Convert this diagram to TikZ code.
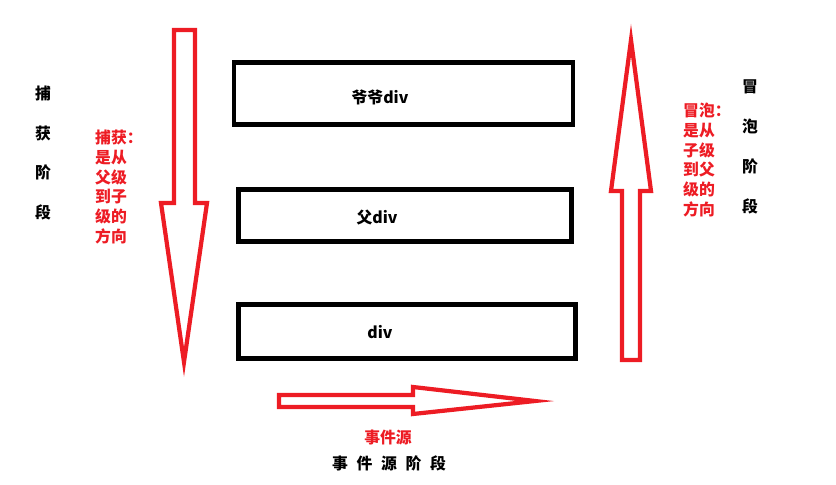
\documentclass[tikz,border=0pt]{standalone}
\usepackage{fontspec}
\setmainfont{Noto Sans CJK SC}
\usepackage{tikz}
\definecolor{paintred}{RGB}{237,28,36}

\begin{document}
\begin{tikzpicture}[x=0.03cm, y=-0.03cm,
        divbox/.style={shape=rectangle, draw=black, line width=4.2pt},
        redarrow/.style={draw=paintred, line width=3.6pt, line join=miter, miter limit=25},
        redtext/.style={text=paintred, font=\fontsize{13.5}{17}\selectfont\bfseries, align=left, inner sep=0pt},
        phase/.style={font=\fontsize{13.5}{34}\selectfont\bfseries, align=center, inner sep=0pt},
        divlabel/.style={font=\fontsize{13.5}{15}\selectfont\bfseries, inner sep=0pt}]
                \useasboundingbox (0,0) rectangle (836,485);
                % the three nested divs
                \node[divbox, minimum width=10.17cm, minimum height=1.86cm] (grandpa) at (403.5, 93.5) {};
                \node[divbox, minimum width=9.99cm, minimum height=1.56cm] (father) at (405, 215.5) {};
                \node[divbox, minimum width=10.11cm, minimum height=1.62cm] (child) at (407, 331.5) {};
                \node[divlabel] (grandpatext) at (380, 97) {爷爷div};
                \node[divlabel] (fathertext) at (377, 217) {父div};
                \node[divlabel] (childtext) at (380, 332) {div};
                % capture: down
                \draw[redarrow] (174,30) -- (195,30) -- (195,203) -- (207,203) -- (184,362) -- (161,203) -- (174,203) -- cycle;
                % bubble: up
                \draw[redarrow] (622,360) -- (622,191) -- (611,191) -- (631,40) -- (651,191) -- (640,191) -- (640,360) -- cycle;
                % target
                \draw[redarrow] (279,395) -- (413,395) -- (413,387) -- (535,401) -- (413,414) -- (413,407) -- (279,407) -- cycle;
                \node[phase] (capture) at (43, 153) {捕\\获\\阶\\段};
                \node[redtext, anchor=west] (capturenote) at (95, 187) {捕获：\\是从\\父级\\到子\\级的\\方向};
                \node[redtext, anchor=west] (bubblenote) at (683, 160) {冒泡：\\是从\\子级\\到父\\级的\\方向};
                \node[phase] (bubble) at (750, 147) {冒\\泡\\阶\\段};
                \node[redtext] (source) at (388, 438) {事件源};
                \node[font=\fontsize{13.5}{17}\selectfont\bfseries, inner sep=0pt] (sourcephase) at (389, 463) {事\hspace{0.55em}件\hspace{0.55em}源\hspace{0.55em}阶\hspace{0.55em}段};
\end{tikzpicture}
\end{document}
